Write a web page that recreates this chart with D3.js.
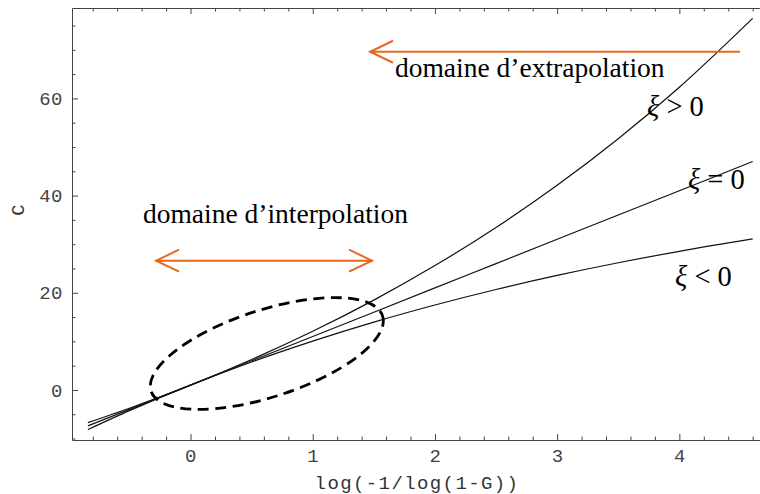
<!DOCTYPE html>
<html>
<head>
<meta charset="utf-8">
<style>
  body { margin: 0; background: #fff; }
  .axis text { font-family: "Liberation Mono", monospace; font-size: 19px; fill: #444; letter-spacing: 0.5px; }
  .axis path, .axis line { stroke: #444; }
  .curve { fill: none; stroke: #111; stroke-width: 1.2px; }
  .note { font-family: "Liberation Serif", serif; font-size: 27.5px; fill: #000; }
  .xi { font-family: "Liberation Serif", serif; font-size: 28.5px; fill: #000; }
  .arrow { fill: none; stroke: #e8681f; stroke-width: 2px; }
  .ellipse { fill: none; stroke: #000; stroke-width: 2.8px; stroke-dasharray: 11,6.5; }
</style>
</head>
<body>
<svg width="760" height="494"></svg>
<script src="https://d3js.org/d3.v7.min.js"></script>
<script>
  // reduced variable log(-1/log(1-G)) and the three quantile curves
  var xs       = [-0.84, -0.5, 0, 0.5, 1, 1.5, 2, 2.5, 3, 3.5, 4, 4.6];
  var xiPos    = [-6.73, -3.76, 1, 6.26, 12.07, 18.49, 25.59, 33.44, 42.11, 51.69, 62.28, 76.46];
  var xiZero   = [-7.4, -4, 1, 6, 11, 16, 21, 26, 31, 36, 41, 47];
  var xiNeg    = [-8.15, -4.26, 1, 5.76, 10.06, 13.96, 17.48, 20.67, 23.56, 26.17, 28.53, 31.07];

  var xMajor = [0, 1, 2, 3, 4];
  var yMajor = [0, 20, 40, 60];

  var svg = d3.select("svg");

  var x = d3.scaleLinear().domain([-0.97, 4.66]).range([72, 760]);
  var y = d3.scaleLinear().domain([-10.3, 78.6]).range([440, 8]);

  var xMinor = d3.range(-0.8, 4.61, 0.2).filter(function(v) { return Math.abs(v - Math.round(v)) > 0.01; });
  var yMinor = d3.range(-10, 76, 5).filter(function(v) { return v % 20 != 0; });

  // bottom axis
  var gb = svg.append("g").attr("class", "axis").attr("transform", "translate(0,440)");
  gb.call(d3.axisBottom(x).tickValues(xMajor).tickSize(-6).tickSizeOuter(0).tickPadding(9).tickFormat(d3.format("d")));
  gb.append("g").call(d3.axisBottom(x).tickValues(xMinor).tickSize(-3.5).tickSizeOuter(0).tickFormat(""))
    .select(".domain").remove();

  // top axis (no labels)
  var gt = svg.append("g").attr("class", "axis").attr("transform", "translate(0,8)");
  gt.call(d3.axisTop(x).tickValues(xMajor).tickSize(-6).tickSizeOuter(0).tickFormat(""));
  gt.append("g").call(d3.axisTop(x).tickValues(xMinor).tickSize(-3.5).tickSizeOuter(0).tickFormat(""))
    .select(".domain").remove();

  // left axis
  var gl = svg.append("g").attr("class", "axis").attr("transform", "translate(72,0)");
  gl.call(d3.axisLeft(y).tickValues(yMajor).tickSize(-6).tickSizeOuter(0).tickPadding(9).tickFormat(d3.format("d")));
  gl.append("g").call(d3.axisLeft(y).tickValues(yMinor).tickSize(-3.5).tickSizeOuter(0).tickFormat(""))
    .select(".domain").remove();

  // axis titles
  svg.append("text")
    .attr("x", 417).attr("y", 489)
    .attr("text-anchor", "middle")
    .style("font-family", "Liberation Mono, monospace").style("font-size", "19px")
    .style("letter-spacing", "1.4px").style("fill", "#333")
    .text("log(-1/log(1-G))");
  svg.append("text")
    .attr("transform", "translate(24,210) rotate(-90)")
    .attr("text-anchor", "middle")
    .style("font-family", "Liberation Mono, monospace").style("font-size", "19px").style("fill", "#333")
    .text("C");

  // curves
  var line = d3.line().curve(d3.curveMonotoneX)
    .x(function(d) { return x(d[0]); })
    .y(function(d) { return y(d[1]); });
  [xiPos, xiZero, xiNeg].forEach(function(s) {
    svg.append("path").attr("class", "curve").attr("d", line(d3.zip(xs, s)));
  });

  // dashed ellipse around the interpolation zone (centre in data units)
  var ellCentre = [0.624, 7.5];
  svg.append("ellipse").attr("class", "ellipse")
    .attr("rx", 121.7).attr("ry", 43.5)
    .attr("transform", "translate(" + x(ellCentre[0]) + "," + y(ellCentre[1]) + ") rotate(-18)");

  // orange arrows
  function head(px, py, dir) {
    return "M" + (px + dir * 23) + "," + (py - 11) + "L" + px + "," + py + "L" + (px + dir * 23) + "," + (py + 11);
  }
  var interpArrow = { x0: -0.282, x1: 1.485, c: 26.6 };
  var extrapArrow = { x0: 1.469, x1: 4.497, c: 69.6 };

  var ay = y(interpArrow.c);
  svg.append("path").attr("class", "arrow")
    .attr("d", "M" + x(interpArrow.x0) + "," + ay + "L" + x(interpArrow.x1) + "," + ay +
      head(x(interpArrow.x0), ay, 1) + head(x(interpArrow.x1), ay, -1));
  var ey = y(extrapArrow.c);
  svg.append("path").attr("class", "arrow")
    .attr("d", "M" + x(extrapArrow.x0) + "," + ey + "L" + x(extrapArrow.x1) + "," + ey +
      head(x(extrapArrow.x0), ey, 1));

  // labels
  var notes = [
    { t: "domaine d\u2019extrapolation", x: 1.673, c: 64.3 },
    { t: "domaine d\u2019interpolation", x: -0.389, c: 34.4 }
  ];
  notes.forEach(function(n) {
    svg.append("text").attr("class", "note").attr("x", x(n.x)).attr("y", y(n.c)).text(n.t);
  });

  var xiLabels = [
    { op: ">", x: 3.736, c: 56.3 },
    { op: "=", x: 4.07, c: 41.3 },
    { op: "<", x: 3.965, c: 21.3 }
  ];
  xiLabels.forEach(function(l) {
    var t = svg.append("text").attr("class", "xi").attr("x", x(l.x)).attr("y", y(l.c));
    t.append("tspan").style("font-style", "italic").text("\u03be");
    t.append("tspan").text(" " + l.op + " 0");
  });
</script>
</body>
</html>
